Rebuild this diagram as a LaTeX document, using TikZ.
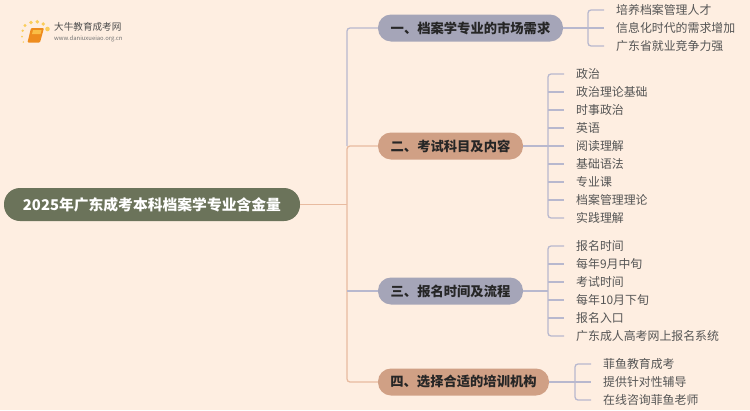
\documentclass[tikz,border=0pt]{standalone}
\usepackage{fontspec}
\usepackage{xcolor}
\usetikzlibrary{positioning,calc}
\setmainfont{Noto Sans CJK SC}
\definecolor{pagebg}{RGB}{254,238,225}
\definecolor{rootgreen}{RGB}{107,115,90}
\definecolor{branchgrey}{RGB}{165,165,184}
\definecolor{branchtan}{RGB}{208,160,133}
\definecolor{linegrey}{RGB}{184,184,206}
\definecolor{linetan}{RGB}{232,187,160}
\definecolor{leaftext}{RGB}{85,85,85}
\definecolor{logodot}{RGB}{250,205,90}
\definecolor{logobook}{RGB}{238,140,30}
\definecolor{logopage}{RGB}{250,190,70}
\tikzset{
	rootnode/.style={rectangle, rounded corners=16pt, fill=rootgreen, text=white, font=\fontsize{14.8}{18}\selectfont\bfseries, minimum width=296pt, minimum height=33pt, inner sep=0pt},
	branchnode/.style={rectangle, rounded corners=13pt, text=black!85, font=\fontsize{13.3}{16}\selectfont\bfseries, minimum height=27pt, inner sep=0pt},
	leafnode/.style={anchor=west, text=leaftext, font=\fontsize{11.9}{14}\selectfont, inner xsep=12pt, inner ysep=0pt, minimum height=14pt},
	greyline/.style={linegrey, line width=1.3pt, rounded corners=3pt},
	tanline/.style={linetan, line width=1.3pt, rounded corners=3pt}
}
\begin{document}
\begin{tikzpicture}[x=1pt,y=-1pt]
	\useasboundingbox[fill=pagebg] (0,0) rectangle (750,410);
	% Logo
	\fill[logodot] (25,25.5) circle (1.6pt) (22.7,30.7) circle (1.3pt) (31,22.5) circle (1.8pt) (37.3,21.8) circle (1.9pt) (43.3,24) circle (1.9pt) (47.5,29) circle (2.3pt) (22,36.7) circle (1pt) (23.3,42) circle (0.8pt);
	\fill[logobook, rounded corners=1pt] (31,28) -- (44,28) -- (40,42.5) -- (27.5,42.5) -- cycle;
	\fill[logopage] (33,30) -- (41.5,30) -- (40.5,34) -- (32,34) -- cycle;
	\node[inner sep=0pt, anchor=west, text=black!70, font=\fontsize{9.6}{11}\selectfont] (logoname) at (54,27) {大牛教育成考网};
	\node[inner sep=0pt, anchor=west, text=black!55, font=\fontsize{5.9}{7}\selectfont] (logourl) at (54,39) {www.daniuxueiao.org.cn};

	% Root and branches
	\node[rootnode] (root) at (152,204.5) {2025年广东成考本科档案学专业含金量};
	\node[branchnode, fill=branchgrey, minimum width=185pt] (b1) at (470.5,28) {一、档案学专业的市场需求};
	\node[branchnode, fill=branchtan, minimum width=145pt] (b2) at (450.5,146) {二、考试科目及内容};
	\node[branchnode, fill=branchgrey, minimum width=145pt] (b3) at (450.5,291) {三、报名时间及流程};
	\node[branchnode, fill=branchtan, minimum width=171pt] (b4) at (463.5,382) {四、选择合适的培训机构};
	\coordinate (trunk) at (347,204.5);
	\coordinate (fork1) at (588,28);
	\coordinate (fork2) at (548,146);
	\coordinate (fork3) at (548,291);
	\coordinate (fork4) at (575,382);

	% Trunk
	\draw[tanline] (root.east) -- (trunk);
	\draw[greyline] (b1.west) -| (trunk |- b2.west);
	\draw[tanline] (b2.west) -| (trunk) |- (b4.west);
	\draw[greyline] (trunk |- b3.west) -- (b3.west);

	% First branch
	\node[leafnode] (l11) at (604,10) {培养档案管理人才};
	\node[leafnode] (l12) at (604,28) {信息化时代的需求增加};
	\node[leafnode] (l13) at (604,46) {广东省就业竞争力强};
	\draw[greyline] (b1.east) -- (l12.west);
	\draw[greyline] (fork1) |- (l11.west);
	\draw[greyline] (fork1) |- (l13.west);

	% Second branch
	\node[leafnode] (l21) at (564,74) {政治};
	\node[leafnode] (l22) at (564,92) {政治理论基础};
	\node[leafnode] (l23) at (564,110) {时事政治};
	\node[leafnode] (l24) at (564,128) {英语};
	\node[leafnode] (l25) at (564,146) {阅读理解};
	\node[leafnode] (l26) at (564,164) {基础语法};
	\node[leafnode] (l27) at (564,182) {专业课};
	\node[leafnode] (l28) at (564,200) {档案管理理论};
	\node[leafnode] (l29) at (564,218) {实践理解};
	\draw[greyline] (b2.east) -- (l25.west);
	\draw[greyline] (fork2) |- (l21.west);
	\draw[greyline] (fork2 |- l22.west) -- (l22.west);
	\draw[greyline] (fork2 |- l23.west) -- (l23.west);
	\draw[greyline] (fork2 |- l24.west) -- (l24.west);
	\draw[greyline] (fork2 |- l26.west) -- (l26.west);
	\draw[greyline] (fork2 |- l27.west) -- (l27.west);
	\draw[greyline] (fork2 |- l28.west) -- (l28.west);
	\draw[greyline] (fork2) |- (l29.west);

	% Third branch
	\node[leafnode] (l31) at (564,246) {报名时间};
	\node[leafnode] (l32) at (564,264) {每年9月中旬};
	\node[leafnode] (l33) at (564,282) {考试时间};
	\node[leafnode] (l34) at (564,300) {每年10月下旬};
	\node[leafnode] (l35) at (564,318) {报名入口};
	\node[leafnode] (l36) at (564,336) {广东成人高考网上报名系统};
	\draw[greyline] (b3.east) -- (fork3);
	\draw[greyline] (fork3) |- (l31.west);
	\draw[greyline] (fork3 |- l32.west) -- (l32.west);
	\draw[greyline] (fork3 |- l33.west) -- (l33.west);
	\draw[greyline] (fork3 |- l34.west) -- (l34.west);
	\draw[greyline] (fork3 |- l35.west) -- (l35.west);
	\draw[greyline] (fork3) |- (l36.west);

	% Fourth branch
	\node[leafnode] (l41) at (591,364) {菲鱼教育成考};
	\node[leafnode] (l42) at (591,382) {提供针对性辅导};
	\node[leafnode] (l43) at (591,400) {在线咨询菲鱼老师};
	\draw[greyline] (b4.east) -- (l42.west);
	\draw[greyline] (fork4) |- (l41.west);
	\draw[greyline] (fork4) |- (l43.west);
\end{tikzpicture}
\end{document}
